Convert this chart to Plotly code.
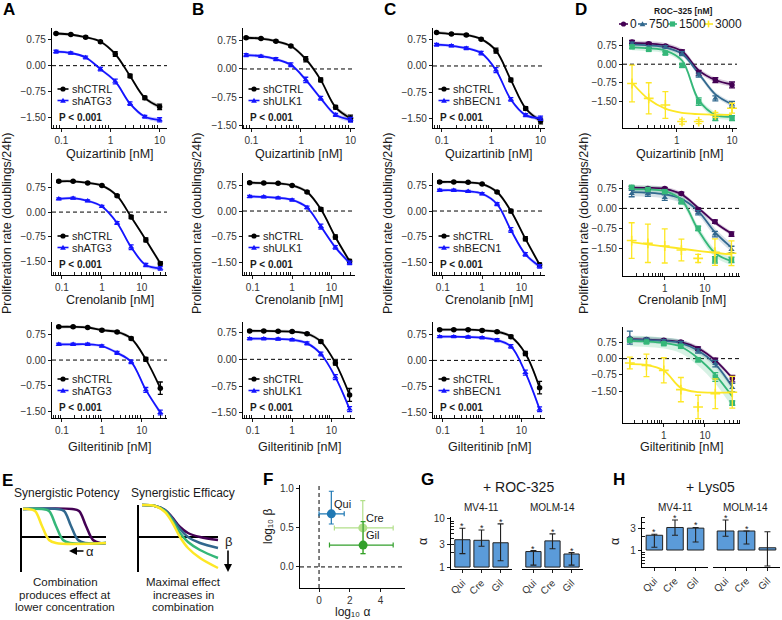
import numpy as np
import plotly.graph_objects as go

W, H = 782, 620
def X(px): return px / W
def Y(py): return 1 - py / H

FONT = "Liberation Sans, Arial, Helvetica, sans-serif"
INK = "#1a1a1a"
TICK = "#333333"

# ---------------- data ----------------
QUIZ_8 = [0.078, 0.156, 0.3125, 0.625, 1.25, 2.5, 5, 10]
QUIZ_7 = [0.156, 0.3125, 0.625, 1.25, 2.5, 5, 10]
CG_8 = [0.083, 0.19, 0.44, 1.0, 2.4, 5.4, 12.6, 29]
CG_7 = [0.15, 0.38, 1.0, 2.6, 6.8, 17.8, 46]

# column A (shATG3)
A_QUI_CTRL = [0.94, 0.91, 0.83, 0.70, 0.34, -0.30, -0.94, -1.20]
A_QUI_KD = [0.41, 0.37, 0.24, -0.10, -0.46, -1.11, -1.49, -1.58]
A_CRE_CTRL = [0.93, 0.93, 0.88, 0.80, 0.49, -0.15, -0.84, -1.55]
A_CRE_KD = [0.40, 0.42, 0.34, 0.17, -0.33, -1.06, -1.60, -1.70]
A_GIL_CTRL = [0.97, 0.97, 0.95, 0.87, 0.82, 0.63, 0.02, -0.82]
A_GIL_KD = [0.46, 0.46, 0.46, 0.41, 0.21, -0.05, -0.87, -1.53]
# column B (shULK1)
B_QUI_CTRL = [0.83, 0.81, 0.74, 0.61, 0.26, -0.29, -1.02, -1.31]
B_QUI_KD = [0.37, 0.34, 0.26, 0.11, -0.29, -0.78, -1.22, -1.35]
B_CRE_CTRL = [0.82, 0.81, 0.80, 0.74, 0.55, 0.05, -0.75, -1.45]
B_CRE_KD = [0.42, 0.41, 0.38, 0.32, 0.10, -0.45, -1.05, -1.50]
B_GIL_CTRL = [0.80, 0.80, 0.79, 0.78, 0.72, 0.50, -0.10, -1.00]
B_GIL_KD = [0.58, 0.58, 0.57, 0.55, 0.45, 0.15, -0.50, -1.40]
# column C (shBECN1)
C_QUI_CTRL = [0.96, 0.92, 0.89, 0.77, 0.44, -0.40, -1.22, -1.58]
C_QUI_KD = [0.61, 0.58, 0.51, 0.37, -0.12, -0.96, -1.41, -1.50]
C_CRE_CTRL = [0.84, 0.84, 0.83, 0.78, 0.55, 0.00, -0.80, -1.55]
C_CRE_KD = [0.60, 0.60, 0.57, 0.50, 0.20, -0.55, -1.25, -1.60]
C_GIL_CTRL = [0.88, 0.88, 0.88, 0.86, 0.82, 0.68, 0.20, -0.78]
C_GIL_KD = [0.68, 0.68, 0.67, 0.65, 0.58, 0.40, -0.35, -1.40]

ERR_QUI_CTRL = [0.02, 0.02, 0.03, 0.03, 0.07, 0.05, 0.05, 0.08]
ERR_QUI_KD = [0.04, 0.03, 0.04, 0.05, 0.07, 0.05, 0.04, 0.06]
ERR_CRE_CTRL = [0.03, 0.02, 0.02, 0.02, 0.03, 0.05, 0.06, 0.05]
ERR_CRE_KD = [0.03, 0.03, 0.03, 0.03, 0.04, 0.07, 0.05, 0.05]
ERR_GIL_CTRL = [0.02, 0.02, 0.02, 0.03, 0.03, 0.04, 0.06, 0.18]
ERR_GIL_KD = [0.03, 0.03, 0.03, 0.03, 0.04, 0.05, 0.07, 0.07]
BAND_ABC = [0.05, 0.04, 0.04, 0.04, 0.05, 0.05, 0.05, 0.07]

# column D (ROC-325 doses 0, 750, 1500, 3000 nM)
ROC_DOSES = ["0", "750", "1500", "3000"]
D_QUI_PTS = [[0.90, 0.83, 0.74, 0.50, -0.35, -0.64, -0.84],
             [0.83, 0.70, 0.70, 0.43, -0.44, -1.38, -1.62],
             [0.70, 0.60, 0.45, -0.05, -1.51, -2.18, -2.18],
             [-0.78, -1.38, -1.65, -2.32, -2.32, -2.05, -1.78]]
D_QUI_ERR = [[0.06, 0.05, 0.05, 0.08, 0.10, 0.10, 0.12],
             [0.06, 0.05, 0.05, 0.08, 0.08, 0.10, 0.12],
             [0.06, 0.06, 0.06, 0.08, 0.15, 0.10, 0.10],
             [0.74, 0.63, 0.54, 0.10, 0.08, 0.10, 0.20]]
D_QUI_FIT = [[0.86, 0.83, 0.76, 0.52, -0.25, -0.64, -0.82],
             [0.80, 0.76, 0.68, 0.42, -0.38, -1.22, -1.62],
             [0.68, 0.64, 0.55, 0.15, -1.45, -2.05, -2.12],
             [-0.75, -1.42, -1.80, -1.97, -2.02, -2.04, -2.05]]
D_QUI_BAND = [[0.10] * 7, [0.10] * 7, [0.12] * 7, [0.0] * 7]

D_CRE_PTS = [[0.77, 0.74, 0.74, 0.55, -0.04, -0.49, -0.95],
             [0.55, 0.55, 0.40, 0.25, -0.16, -0.95, -1.52],
             [0.78, 0.70, 0.62, 0.25, -0.74, -1.90, -1.90],
             [-1.19, -1.29, -1.39, -1.54, -1.85, -1.62, -1.66]]
D_CRE_ERR = [[0.04, 0.04, 0.04, 0.05, 0.06, 0.06, 0.08],
             [0.12, 0.10, 0.10, 0.06, 0.08, 0.10, 0.12],
             [0.05, 0.05, 0.05, 0.08, 0.08, 0.12, 0.10],
             [0.66, 0.71, 0.63, 0.40, 0.15, 0.49, 0.46]]
D_CRE_FIT = [[0.77, 0.76, 0.72, 0.52, 0.02, -0.52, -0.93],
             [0.60, 0.58, 0.52, 0.35, -0.10, -0.88, -1.45],
             [0.70, 0.70, 0.64, 0.32, -0.80, -1.65, -1.95],
             [-1.25, -1.33, -1.41, -1.49, -1.57, -1.64, -1.71]]
D_CRE_BAND = [[0.08] * 7, [0.15] * 7, [0.15] * 7, [0.0] * 7]

D_GIL_PTS = [[0.92, 0.88, 0.85, 0.77, 0.46, -0.08, -0.92],
             [0.97, 0.88, 0.82, 0.72, 0.35, -0.23, -1.34],
             [0.85, 0.77, 0.69, 0.57, -0.05, -0.85, -2.05],
             [-0.20, -0.31, -0.54, -1.43, -2.23, -1.62, -1.55]]
D_GIL_ERR = [[0.05, 0.05, 0.05, 0.06, 0.08, 0.10, 0.15],
             [0.30, 0.06, 0.06, 0.08, 0.10, 0.15, 0.20],
             [0.06, 0.06, 0.06, 0.08, 0.10, 0.20, 0.10],
             [0.27, 0.52, 0.58, 0.56, 0.54, 0.69, 0.73]]
D_GIL_FIT = [[0.90, 0.88, 0.84, 0.76, 0.48, -0.08, -0.90],
             [0.88, 0.86, 0.82, 0.72, 0.38, -0.25, -1.30],
             [0.82, 0.79, 0.72, 0.55, 0.02, -0.75, -1.75],
             [-0.25, -0.29, -0.55, -1.35, -1.55, -1.57, -1.57]]
D_GIL_BAND = [[0.10] * 7, [0.15] * 7, [0.25, 0.25, 0.25, 0.3, 0.35, 0.4, 0.5], [0.0] * 7]

# panel F
F_DRUGS = ["Qui", "Cre", "Gil"]
F_LOG_ALPHA = [0.80, 2.85, 2.87]
F_LOG_ALPHA_LO = [0.00, 1.00, 0.68]
F_LOG_ALPHA_HI = [1.64, 4.83, 4.83]
F_LOG_BETA = [0.68, 0.50, 0.28]
F_LOG_BETA_LO = [0.55, 0.17, 0.17]
F_LOG_BETA_HI = [0.97, 0.85, 0.58]
F_COLORS = ["#1F78B4", "#B2DF8A", "#33A02C"]

# panels G and H (alpha)
CATS = ["Qui", "Cre", "Gil"]
G_MV4 = [3.7, 3.6, 3.2];   G_MV4_LO = [1.9, 2.7, 1.35]; G_MV4_HI = [6.4, 5.9, 7.9]
G_MOLM = [2.1, 3.5, 1.87]; G_MOLM_LO = [1.1, 2.4, 1.1]; G_MOLM_HI = [2.2, 4.9, 2.0]
H_MV4 = [2.1, 3.1, 3.0];   H_MV4_LO = [1.15, 2.1, 1.5]; H_MV4_HI = [2.2, 4.5, 3.1]
H_MOLM = [2.6, 2.6, 1.12]; H_MOLM_LO = [2.0, 1.35, 0.45]; H_MOLM_HI = [4.5, 2.6, 2.5]
G_STARS = [True, True, True]; G2_STARS = [True, True, True]
H_STARS = [True, True, True]; H2_STARS = [True, True, False]

# panel E schematic (drawn in a pixel-like frame)
POT_COLORS = ["#440154", "#31688E", "#35B779", "#FDE725"]
POT_X = [[23, 72, 79, 86, 93, 100, 106],
         [23, 57, 64, 71, 78, 85, 106],
         [23, 42, 49, 56, 63, 70, 106],
         [23, 28, 35, 42, 49, 56, 106]]
POT_Y = [509, 509, 511, 526, 540, 543, 543]
EFF_X = [142, 155, 165, 172, 180, 188, 200, 218]
EFF_Y = [[505, 506, 510, 517, 527, 533, 537, 540],
         [505, 506, 510, 518, 529, 537, 543, 548],
         [505, 506, 511, 520, 533, 542, 550, 558],
         [505, 506, 512, 522, 537, 548, 558, 568]]

# ---------------- figure ----------------
fig = go.Figure()
layout = {}
shapes = []
annots = []

def keys(i):
    s = "" if i == 1 else str(i)
    return "xaxis" + s, "yaxis" + s, "x" + s, "y" + s

def minor_log(lo, hi):
    out = []
    for d in range(-3, 3):
        for k in range(2, 10):
            v = k * 10.0 ** d
            if 10 ** lo <= v <= 10 ** hi:
                out.append(v)
    return out

def text(px, py, s, size=11, bold=False, xanchor="center", yanchor="middle", angle=0, color=INK):
    if bold:
        s = "<b>" + s + "</b>"
    annots.append(dict(x=X(px), y=Y(py), xref="paper", yref="paper", text=s, showarrow=False,
                       xanchor=xanchor, yanchor=yanchor, textangle=angle, borderpad=0,
                       font=dict(size=size, color=color, family=FONT)))

def key(cx, cy, color, sym, half=5.5, r=2.6):
    shapes.append(dict(type="line", xref="paper", yref="paper", x0=X(cx - half), x1=X(cx + half),
                       y0=Y(cy), y1=Y(cy), line=dict(color=color, width=1.6)))
    if sym == "circle":
        shapes.append(dict(type="circle", xref="paper", yref="paper", x0=X(cx - r), x1=X(cx + r),
                           y0=Y(cy + r), y1=Y(cy - r), fillcolor=color, line=dict(width=0)))
    elif sym == "triangle-up":
        p = "M %f,%f L %f,%f L %f,%f Z" % (X(cx - r * 1.1), Y(cy + r * 0.9), X(cx + r * 1.1), Y(cy + r * 0.9), X(cx), Y(cy - r * 1.1))
        shapes.append(dict(type="path", xref="paper", yref="paper", path=p, fillcolor=color, line=dict(width=0)))
    elif sym == "square":
        shapes.append(dict(type="rect", xref="paper", yref="paper", x0=X(cx - r), x1=X(cx + r),
                           y0=Y(cy + r), y1=Y(cy - r), fillcolor=color, line=dict(width=0)))
    else:
        shapes.append(dict(type="line", xref="paper", yref="paper", x0=X(cx), x1=X(cx),
                           y0=Y(cy + r * 1.3), y1=Y(cy - r * 1.3), line=dict(color=color, width=1.6)))

def dose_axes(i, px, py, xr, yr, xticks):
    xa, ya, xn, yn = keys(i)
    layout[xa] = dict(domain=[X(px[0]), X(px[1])], anchor=yn, type="log", range=xr,
                      tickmode="array", tickvals=xticks, ticktext=[("%g" % v) for v in xticks],
                      ticks="outside", ticklen=3, tickwidth=1, tickcolor=INK,
                      showline=True, linecolor="black", linewidth=1.4, showgrid=False, zeroline=False,
                      tickfont=dict(size=10, color=TICK),
                      minor=dict(tickmode="array", tickvals=minor_log(*xr), ticks="inside", ticklen=2.5,
                                 tickwidth=0.8, tickcolor=INK, showgrid=False))
    layout[ya] = dict(domain=[Y(py[1]), Y(py[0])], anchor=xn, range=yr,
                      tickmode="array", tickvals=[-1.5, -0.75, 0, 0.75],
                      ticktext=["\u22121.50", "\u22120.75", "0.00", "0.75"],
                      ticks="outside", ticklen=3, tickwidth=1, tickcolor=INK,
                      showline=True, linecolor="black", linewidth=1.4, showgrid=False, zeroline=False,
                      tickfont=dict(size=10, color=TICK))
    shapes.append(dict(type="line", xref=xn + " domain", yref=yn, x0=0, x1=1, y0=0, y1=0, layer="below",
                       line=dict(color="black", width=1, dash="4px,3px")))
    return xn, yn

def band(xn, yn, conc, fit, bw, fillc):
    up = [a + b for a, b in zip(fit, bw)]
    lo = [a - b for a, b in zip(fit, bw)]
    fig.add_trace(go.Scatter(x=conc, y=up, xaxis=xn, yaxis=yn, mode="lines", line=dict(width=0, shape="spline"),
                             showlegend=False, hoverinfo="skip"))
    fig.add_trace(go.Scatter(x=conc, y=lo, xaxis=xn, yaxis=yn, mode="lines", line=dict(width=0, shape="spline"),
                             fill="tonexty", fillcolor=fillc, showlegend=False, hoverinfo="skip"))

BLUE = "#1414FF"
cols_px = {"A": (52, 167), "B": (243, 355), "C": (433, 545)}
rows_py = [(28, 128), (173, 275), (322, 418)]
KD = {"A": "shATG3", "B": "shULK1", "C": "shBECN1"}
DATA = {
    ("A", 0): (A_QUI_CTRL, A_QUI_KD), ("A", 1): (A_CRE_CTRL, A_CRE_KD), ("A", 2): (A_GIL_CTRL, A_GIL_KD),
    ("B", 0): (B_QUI_CTRL, B_QUI_KD), ("B", 1): (B_CRE_CTRL, B_CRE_KD), ("B", 2): (B_GIL_CTRL, B_GIL_KD),
    ("C", 0): (C_QUI_CTRL, C_QUI_KD), ("C", 1): (C_CRE_CTRL, C_CRE_KD), ("C", 2): (C_GIL_CTRL, C_GIL_KD),
}
ERRS = [(ERR_QUI_CTRL, ERR_QUI_KD), (ERR_CRE_CTRL, ERR_CRE_KD), (ERR_GIL_CTRL, ERR_GIL_KD)]
XR = {0: {"A": [-1.19, 1.15], "B": [-1.17, 1.09], "C": [-1.18, 1.09]},
      1: {"A": [-1.25, 1.63], "B": [-1.25, 1.60], "C": [-1.25, 1.60]},
      2: {"A": [-1.25, 1.63], "B": [-1.25, 1.60], "C": [-1.25, 1.60]}}
YR = {0: {"A": [-1.82, 1.10], "B": [-1.57, 1.09], "C": [-1.78, 1.09]},
      1: {"A": [-1.90, 1.18], "B": [-1.85, 1.10], "C": [-1.85, 1.10]},
      2: {"A": [-1.69, 1.11], "B": [-1.65, 1.05], "C": [-1.65, 1.10]}}
DRUGS = ["Quizartinib [nM]", "Crenolanib [nM]", "Gilteritinib [nM]"]
XTITLE_Y = [154, 300, 447]

idx = 0
for r in range(3):
    for c in ["A", "B", "C", "D"]:
        idx += 1
        if c != "D":
            px = cols_px[c]; py = rows_py[r]
            conc = QUIZ_8 if r == 0 else CG_8
            xn, yn = dose_axes(idx, px, py, XR[r][c], YR[r][c], [0.1, 1, 10])
            ctrl, kd = DATA[(c, r)]
            e_ctrl, e_kd = ERRS[r]
            band(xn, yn, conc, ctrl, BAND_ABC, "rgba(0,0,0,0.2)")
            band(xn, yn, conc, kd, BAND_ABC, "rgba(20,20,255,0.2)")
            for ys, es, col, sym in [(ctrl, e_ctrl, "black", "circle"), (kd, e_kd, BLUE, "triangle-up")]:
                fig.add_trace(go.Scatter(x=conc, y=ys, xaxis=xn, yaxis=yn, mode="lines+markers",
                                         line=dict(color=col, width=1.8, shape="spline"),
                                         marker=dict(symbol=sym, size=5.5, color=col),
                                         error_y=dict(type="data", array=es, color=col, thickness=1.3, width=2.5),
                                         showlegend=False))
            x0, y1 = px[0], py[1]
            key(x0 + 11, y1 - 39, "black", "circle")
            text(x0 + 18.5, y1 - 39, "shCTRL", size=11, xanchor="left")
            key(x0 + 11, y1 - 27.5, BLUE, "triangle-up")
            text(x0 + 18.5, y1 - 27.5, KD[c], size=11, xanchor="left")
            text(x0 + 6, y1 - 11, "P &lt; 0.001", size=10, bold=True, xanchor="left")
            text((px[0] + px[1]) / 2, XTITLE_Y[r], DRUGS[r], size=12.5)
        else:
            if r == 0:
                px, py, xr, yr = (623, 737), (37, 128), [-0.97, 1.09], [-2.58, 1.10]
                conc, P, E, F, B = QUIZ_7, D_QUI_PTS, D_QUI_ERR, D_QUI_FIT, D_QUI_BAND
            elif r == 1:
                px, py, xr, yr = (623, 740), (180, 276), [-1.04, 1.875], [-2.50, 1.05]
                conc, P, E, F, B = CG_7, D_CRE_PTS, D_CRE_ERR, D_CRE_FIT, D_CRE_BAND
            else:
                px, py, xr, yr = (623, 740), (327, 423), [-0.99, 1.85], [-2.97, 1.46]
                conc, P, E, F, B = CG_7, D_GIL_PTS, D_GIL_ERR, D_GIL_FIT, D_GIL_BAND
            xn, yn = dose_axes(idx, px, py, xr, yr, [1, 10])
            fills = ["rgba(68,1,84,0.2)", "rgba(49,104,142,0.2)", "rgba(53,183,121,0.2)", None]
            for k in range(4):
                if fills[k]:
                    band(xn, yn, conc, F[k], B[k], fills[k])
            syms = ["circle", "triangle-up", "square", "cross-thin"]
            for k in range(4):
                fig.add_trace(go.Scatter(x=conc, y=F[k], xaxis=xn, yaxis=yn, mode="lines",
                                         line=dict(color=POT_COLORS[k], width=1.8, shape="spline"), showlegend=False))
            for k in range(4):
                mk = dict(symbol=syms[k], size=5.5 if k < 3 else 7, color=POT_COLORS[k])
                if k == 3:
                    mk["line"] = dict(color=POT_COLORS[k], width=1.6)
                fig.add_trace(go.Scatter(x=conc, y=P[k], xaxis=xn, yaxis=yn, mode="markers", marker=mk,
                                         error_y=dict(type="data", array=E[k], color=POT_COLORS[k], thickness=1.3, width=3),
                                         showlegend=False))
            text((px[0] + px[1]) / 2, XTITLE_Y[r], DRUGS[r], size=12.5)

# D legend
text(683, 11, "ROC\u2212325 [nM]", size=8.5, bold=True)
for k, (kx, tx) in enumerate([(623.5, 629), (642.5, 648), (672.5, 678), (708.5, 713.5)]):
    key(kx, 24, POT_COLORS[k], ["circle", "triangle-up", "square", "plus"][k], half=4.5)
    text(tx, 24, ROC_DOSES[k], size=12, xanchor="left")

# y titles
for xpx in [7, 197, 388, 584]:
    text(xpx, 224, "Proliferation rate (doublings/24h)", size=12.5, angle=-90)

# panel letters
for L, xpx, ypx in [("A", 2, 9), ("B", 191, 9), ("C", 383, 9), ("D", 574, 9),
                    ("E", 1, 480), ("F", 262, 479), ("G", 420, 479), ("H", 612, 479)]:
    text(xpx, ypx, L, size=17, bold=True, xanchor="left", color="black")

# ---------------- panel E ----------------
ie = 18
xa, ya, xe, ye = keys(ie)
layout[xa] = dict(domain=[0, X(245)], range=[0, 245], visible=False, anchor=ye)
layout[ya] = dict(domain=[Y(620), Y(470)], range=[620, 470], visible=False, anchor=xe)
AXES_E = [([21, 21], [508, 572]), ([21, 106], [537, 537]), ([138, 138], [505, 572]), ([138, 218], [537, 537])]
for ax_x, ax_y in AXES_E:
    fig.add_trace(go.Scatter(x=ax_x, y=ax_y, xaxis=xe, yaxis=ye, mode="lines", line=dict(color="black", width=2),
                             showlegend=False, hoverinfo="skip"))
for k in range(4):
    fig.add_trace(go.Scatter(x=POT_X[k], y=POT_Y, xaxis=xe, yaxis=ye, mode="lines",
                             line=dict(color=POT_COLORS[k], width=2.5, shape="spline"), showlegend=False))
for k in range(4):
    fig.add_trace(go.Scatter(x=EFF_X, y=EFF_Y[k], xaxis=xe, yaxis=ye, mode="lines",
                             line=dict(color=POT_COLORS[k], width=2.5, shape="spline"), showlegend=False))
annots.append(dict(x=69, y=551, ax=85, ay=551, xref=xe, yref=ye, axref=xe, ayref=ye, text="", showarrow=True,
                   arrowhead=2, arrowsize=1, arrowwidth=1.6, arrowcolor="black"))
annots.append(dict(x=228, y=572, ax=228, ay=549, xref=xe, yref=ye, axref=xe, ayref=ye, text="", showarrow=True,
                   arrowhead=2, arrowsize=1, arrowwidth=1.6, arrowcolor="black"))
text(90, 551, "\u03b1", size=13)
text(228, 541, "\u03b2", size=13)
text(66, 493, "Synergistic Potency", size=12)
text(183, 493, "Synergistic Efficacy", size=12)
for j, (l1, l2) in enumerate([("Combination", "Maximal effect"), ("produces effect at", "increases in"),
                              ("lower concentration", "combination")]):
    text(65, 582 + 12.7 * j, l1, size=11.5)
    text(183, 582 + 12.7 * j, l2, size=11.5)

# ---------------- panel F ----------------
i = 13
xa, ya, xn, yn = keys(i)
layout[xa] = dict(domain=[X(300), X(405)], anchor=yn, range=[-1.24, 5.6], tickvals=[0, 2, 4],
                  ticks="outside", ticklen=3, tickcolor=INK, showline=True, linecolor="black", linewidth=1.4,
                  showgrid=False, zeroline=False, tickfont=dict(size=10, color=TICK))
layout[ya] = dict(domain=[Y(588), Y(485)], anchor=xn, range=[-0.27, 1.05], tickvals=[0, 0.5, 1.0],
                  ticktext=["0.0", "0.5", "1.0"], ticks="outside", ticklen=3, tickcolor=INK, showline=True,
                  linecolor="black", linewidth=1.4, showgrid=False, zeroline=False, tickfont=dict(size=10, color=TICK))
shapes.append(dict(type="line", xref=xn, yref=yn + " domain", x0=0, x1=0, y0=0, y1=1, layer="below",
                   line=dict(color="black", width=1, dash="4px,3px")))
shapes.append(dict(type="line", xref=xn + " domain", yref=yn, x0=0, x1=1, y0=0, y1=0, layer="below",
                   line=dict(color="black", width=1, dash="4px,3px")))
for k in range(3):
    fig.add_trace(go.Scatter(x=[F_LOG_ALPHA[k]], y=[F_LOG_BETA[k]], xaxis=xn, yaxis=yn, mode="markers",
                             marker=dict(size=9, color=F_COLORS[k]),
                             error_x=dict(type="data", symmetric=False, array=[F_LOG_ALPHA_HI[k] - F_LOG_ALPHA[k]],
                                          arrayminus=[F_LOG_ALPHA[k] - F_LOG_ALPHA_LO[k]], color=F_COLORS[k],
                                          thickness=1.2, width=2.5),
                             error_y=dict(type="data", symmetric=False, array=[F_LOG_BETA_HI[k] - F_LOG_BETA[k]],
                                          arrayminus=[F_LOG_BETA[k] - F_LOG_BETA_LO[k]], color=F_COLORS[k],
                                          thickness=1.2, width=2.5),
                             showlegend=False))
    annots.append(dict(x=F_LOG_ALPHA[k], y=F_LOG_BETA[k], xref=xn, yref=yn, text=F_DRUGS[k], showarrow=False,
                       xanchor="left", yanchor="bottom", xshift=1, yshift=2, font=dict(size=11, color=INK, family=FONT)))
text(352, 612, "log\u2081\u2080 \u03b1", size=12)
text(268, 527, "log\u2081\u2080 \u03b2", size=12, angle=-90)

# ---------------- panels G, H ----------------
BAR_FILL = "#5B9BD9"
def bar_facet(i, px, py, yr, vals, lo, hi, stars, show_y, ytv):
    xa, ya, xn, yn = keys(i)
    layout[xa] = dict(domain=[X(px[0]), X(px[1])], anchor=yn, type="category", range=[-0.6, 2.6],
                      categoryorder="array", categoryarray=CATS, tickangle=-45, ticks="outside", ticklen=3,
                      tickcolor=INK, showline=True, linecolor="black", linewidth=1.4, showgrid=False,
                      tickfont=dict(size=10, color=TICK))
    yd = dict(domain=[Y(py[1]), Y(py[0])], anchor=xn, type="log", range=yr, showgrid=False, zeroline=False)
    if show_y:
        yd.update(tickmode="array", tickvals=ytv, ticktext=[str(v) for v in ytv], ticks="outside", ticklen=3,
                  tickcolor=INK, showline=True, linecolor="black", linewidth=1.4, tickfont=dict(size=10, color=TICK),
                  minor=dict(tickmode="array", tickvals=minor_log(*yr), ticks="inside", ticklen=2.5, tickwidth=0.8,
                             tickcolor=INK))
    else:
        yd.update(showticklabels=False, ticks="", showline=False)
    layout[ya] = yd
    fig.add_trace(go.Bar(x=CATS, y=[v - 1 for v in vals], base=1, width=0.8, xaxis=xn, yaxis=yn,
                         marker=dict(color=BAR_FILL, line=dict(color="#222222", width=1)), showlegend=False))
    fig.add_trace(go.Scatter(x=CATS, y=vals, xaxis=xn, yaxis=yn, mode="markers", marker=dict(size=1, opacity=0),
                             error_y=dict(type="data", symmetric=False, array=[h - v for h, v in zip(hi, vals)],
                                          arrayminus=[v - l for v, l in zip(vals, lo)], color="#222222",
                                          thickness=1.1, width=3), showlegend=False))
    for ccat, s, h in zip(CATS, stars, hi):
        if s:
            annots.append(dict(x=ccat, y=float(np.log10(h)), xref=xn, yref=yn, text="*", showarrow=False,
                               yanchor="bottom", yshift=-5, font=dict(size=9, color=INK, family=FONT)))

bar_facet(14, (451, 512), (517, 569), [-0.04, 1.04], G_MV4, G_MV4_LO, G_MV4_HI, G_STARS, True, [1, 3, 10])
bar_facet(15, (522, 583), (517, 569), [-0.04, 1.04], G_MOLM, G_MOLM_LO, G_MOLM_HI, G2_STARS, False, [1, 3, 10])
bar_facet(16, (642, 708), (517, 567), [-0.37, 0.72], H_MV4, H_MV4_LO, H_MV4_HI, H_STARS, True, [1, 3])
bar_facet(17, (713, 780), (517, 567), [-0.37, 0.72], H_MOLM, H_MOLM_LO, H_MOLM_HI, H2_STARS, False, [1, 3])
text(518, 487, "+ ROC-325", size=14)
text(481, 507, "MV4-11", size=10)
text(552, 507, "MOLM-14", size=10)
text(710, 487, "+ Lys05", size=14)
text(675, 507, "MV4-11", size=10)
text(745, 507, "MOLM-14", size=10)
text(423, 542, "\u03b1", size=12.5, angle=-90)
text(615, 542, "\u03b1", size=12.5, angle=-90)

fig.update_layout(width=W, height=H, margin=dict(l=0, r=0, t=0, b=0, autoexpand=False),
                  paper_bgcolor="white", plot_bgcolor="white", showlegend=False,
                  font=dict(family=FONT, color=INK), shapes=shapes, annotations=annots, barmode="overlay",
                  **layout)
fig.write_html("out.html", config={"displayModeBar": False},
               post_script="document.body.style.margin='0px';document.body.style.padding='0px';")
